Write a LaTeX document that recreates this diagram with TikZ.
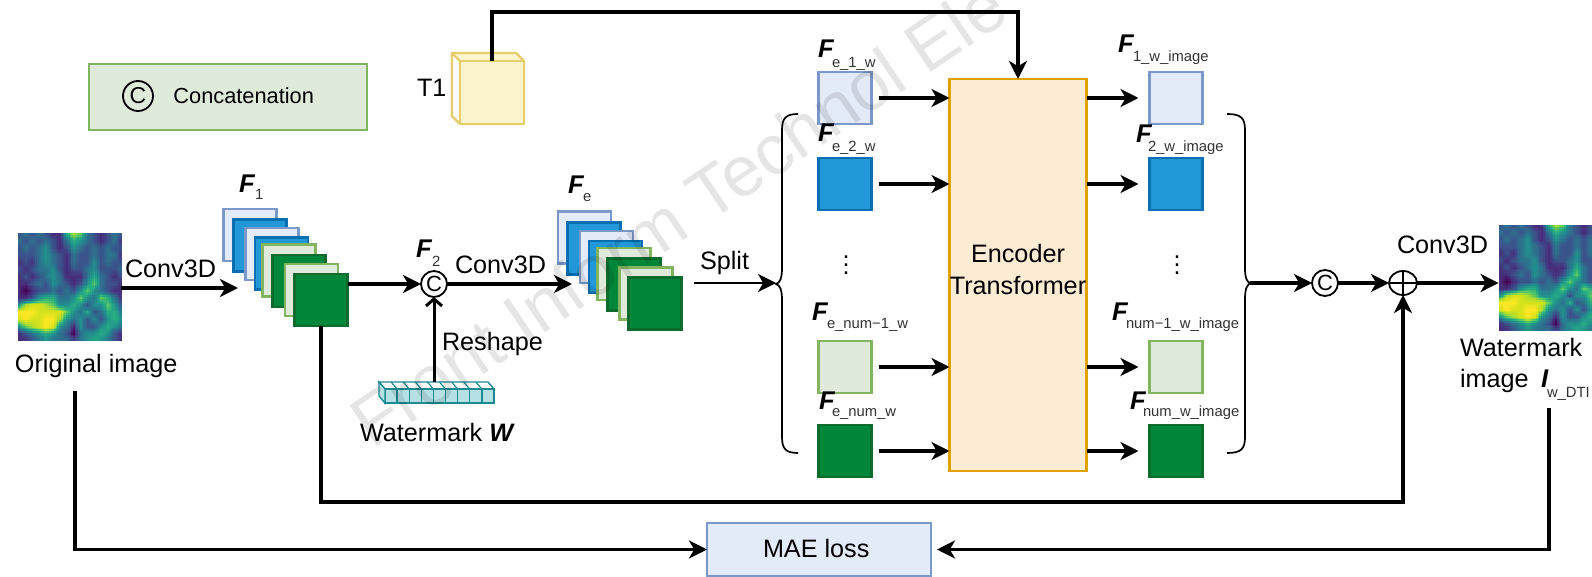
\documentclass[tikz,border=0pt]{standalone}
\usepackage{fontspec}
\setmainfont{Liberation Sans}
\usetikzlibrary{arrows.meta,shapes.geometric}
\definecolor{vir0}{HTML}{440154}\definecolor{vir1}{HTML}{472D7B}\definecolor{vir2}{HTML}{3B528B}
\definecolor{vir3}{HTML}{2C728E}\definecolor{vir4}{HTML}{21908D}\definecolor{vir5}{HTML}{27AD81}
\definecolor{vir6}{HTML}{5CC863}\definecolor{vir7}{HTML}{AADC32}\definecolor{vir8}{HTML}{D5E21A}
\definecolor{vir9}{HTML}{FDE725}\definecolor{vir10}{HTML}{FDE725}
\definecolor{lbF}{HTML}{E3EAF8}\definecolor{lbS}{HTML}{7A99C8}
\definecolor{bF}{HTML}{2298D8}\definecolor{bS}{HTML}{0A6FB0}
\definecolor{lgF}{HTML}{E0EADB}\definecolor{lgS}{HTML}{82B560}
\definecolor{gF}{HTML}{00873A}\definecolor{gS}{HTML}{0E6B2E}
\definecolor{encF}{HTML}{FDEBD3}\definecolor{encS}{HTML}{DFA300}
\definecolor{tF}{HTML}{FCF3CF}\definecolor{tS}{HTML}{E6CE6A}
\definecolor{wF}{HTML}{B5E1E4}\definecolor{wS}{HTML}{1C8A90}
\foreach \rw [count=\r from 0] in {
 {2,3,2,3,2,1,1,5,7,6,3,2,1,2,3,2},
 {3,2,3,2,3,2,1,3,5,4,3,2,1,2,3,1},
 {2,3,2,3,4,2,1,2,4,3,2,3,2,3,2,2},
 {2,2,2,3,4,3,2,1,3,2,2,3,2,3,3,1},
 {1,2,1,3,4,3,2,1,3,2,2,4,2,3,2,2},
 {2,1,2,3,3,4,2,1,2,2,3,4,2,2,2,3},
 {1,2,1,2,3,4,3,1,1,1,3,5,3,2,1,2},
 {1,1,2,3,2,4,3,2,1,2,4,6,3,2,2,1},
 {1,0,1,2,2,3,2,3,2,4,6,4,3,2,1,1},
 {1,1,2,4,5,5,3,3,4,6,4,3,6,5,3,1},
 {4,7,8,8,7,6,4,4,5,4,2,4,4,6,4,2},
 {9,9,9,8,8,8,8,6,4,3,5,2,3,5,5,3},
 {8,9,8,8,9,9,7,4,3,4,2,4,2,4,5,4},
 {4,6,7,8,9,8,4,3,1,4,2,2,4,5,4,3},
 {1,2,3,4,5,4,3,2,0,3,4,4,5,4,2,1},
 {1,1,2,3,4,3,3,3,2,3,4,5,4,3,2,1}}{
  \foreach \val [count=\c from 0] in \rw {
    \expandafter\xdef\csname hm-\r-\c\endcsname{\val}}}
\newcommand{\hmcell}[2]{\csname hm-\number#1-\number#2\endcsname}
% heat map drawn from the data above, interpolated between grid points
\newcommand{\hmap}[4]{%
 \pgfmathsetmacro\hdx{(#3-#1)/60}\pgfmathsetmacro\hdy{(#4-#2)/60}%
 \foreach \ii in {0,...,59}{%
  \edef\hr{\the\numexpr(\ii+2)/4-1\relax}\edef\hfy{\the\numexpr\ii-4*\hr\relax}%
  \edef\hrr{\the\numexpr\hr+1\relax}%
  \foreach \jj in {0,...,59}{%
   \edef\hc{\the\numexpr(\jj+2)/4-1\relax}\edef\hfx{\the\numexpr\jj-4*\hc\relax}%
   \edef\hcc{\the\numexpr\hc+1\relax}%
   \edef\hv{\the\numexpr(4-\hfy)*((4-\hfx)*\hmcell{\hr}{\hc}+\hfx*\hmcell{\hr}{\hcc})+\hfy*((4-\hfx)*\hmcell{\hrr}{\hc}+\hfx*\hmcell{\hrr}{\hcc})\relax}%
   \edef\hk{\the\numexpr(\hv+8)/16-1\relax}\edef\hkk{\the\numexpr\hk+1\relax}%
   \edef\hp{\the\numexpr100-(\hv-16*\hk)*100/16\relax}%
   \fill[vir\hk!\hp!vir\hkk] ({#1+\jj*\hdx},{#2+\ii*\hdy}) rectangle ++({\hdx+0.6},{\hdy+0.6});
  }}}
\newcommand{\bigsz}{\fontsize{12.6}{16}\selectfont}
\newcommand{\subsz}{\fontsize{7.4}{9}\selectfont}
\tikzset{
  x=0.5pt,y=-0.5pt,
  txt/.style={anchor=base west,inner sep=0pt,outer sep=0pt,font=\bigsz,text=black},
  fsym/.style={anchor=base west,inner sep=0pt,outer sep=0pt,font=\fontsize{12.8}{14}\selectfont\bfseries\itshape},
  fsub/.style={anchor=base west,inner sep=0pt,outer sep=0pt,font=\subsz,text=black!80},
  sq/.style={rectangle,minimum width=26.5pt,minimum height=26pt,inner sep=0pt,outer sep=0pt,line width=1.3pt},
  sqlb/.style={sq,fill=lbF,draw=lbS},
  sqb/.style={sq,fill=bF,draw=bS},
  sqlg/.style={sq,fill=lgF,draw=lgS},
  sqg/.style={sq,fill=gF,draw=gS},
  flow/.style={line width=1.6pt,-{Stealth[length=9pt,width=9pt,inset=2.6pt]}},
  thinflow/.style={line width=1pt,-{Stealth[length=9pt,width=9pt,inset=2.6pt]}},
  brace/.style={line width=0.85pt},
  cat/.style={circle,draw=black,fill=white,line width=0.9pt,inner sep=0pt,outer sep=0pt,minimum size=13pt,font=\fontsize{11}{11}\selectfont},
  wcell/.style={fill=wF,draw=wS,line width=0.7pt},
  wtop/.style={fill=white,draw=wS,line width=0.7pt},
}
\begin{document}
\begin{tikzpicture}
\useasboundingbox (0,0) rectangle (1592,577);
\fill[white] (0,0) rectangle (1592,577);
% legend
\node[rectangle,draw=lgS,fill=lgF,line width=1.4pt,minimum width=139pt,minimum height=33pt,inner sep=0pt] (legend) at (228,97) {};
\node[cat,minimum size=15pt,fill=none,font=\fontsize{11.5}{12}\selectfont] (legc) at (138,96) {C};
\node[anchor=base west,inner sep=0pt,font=\fontsize{10.9}{12}\selectfont] (legt) at (173,104) {Concatenation};
% images
\hmap{18}{233}{121}{340}
\node[inner sep=0pt,minimum width=51.5pt,minimum height=53.5pt] (orig) at (69.5,286.5) {};
\begin{scope}
\clip (1400,200) rectangle (1592,577);
\hmap{1499}{225}{1604}{330}
\end{scope}
\node[inner sep=0pt,minimum width=52.5pt,minimum height=52.5pt] (wimg) at (1551.5,277.5) {};
% F1 stack
\node[sqlb] (a1) at (250,235) {};
\node[sqb]  (a2) at (260,245.5) {};
\node[sqlb] (a3) at (272,254) {};
\node[sqb]  (a4) at (281.5,263.5) {};
\node[sqlg] (a5) at (289,270.5) {};
\node[sqg]  (a6) at (299,281) {};
\node[sqlg] (a7) at (311.5,290) {};
\node[sqg]  (a8) at (321,300) {};
% Fe stack
\node[sqlb] (b1) at (584.5,237.5) {};
\node[sqb]  (b2) at (594,248.5) {};
\node[sqlb] (b3) at (606.5,257) {};
\node[sqb]  (b4) at (615.5,267) {};
\node[sqlg] (b5) at (624,274) {};
\node[sqg]  (b6) at (634,284.5) {};
\node[sqlg] (b7) at (646,293.5) {};
\node[sqg]  (b8) at (655,303.5) {};
% split squares
\node[sqlb] (e1) at (845,98) {};
\node[sqb]  (e2) at (845,184) {};
\node[sqlg] (e3) at (845,367) {};
\node[sqg]  (e4) at (845,451) {};
\node[sqlb] (o1) at (1176,98) {};
\node[sqb]  (o2) at (1176,184) {};
\node[sqlg] (o3) at (1176,367) {};
\node[sqg]  (o4) at (1176,451) {};
\node[rectangle,fill=encF,draw=encS,line width=1.4pt,minimum width=68.5pt,minimum height=196pt,inner sep=0pt,outer sep=0pt] (enc) at (1018,275) {};
\node[inner sep=0pt,align=center,font=\bigsz] (enct) at (1018,269) {Encoder\\Transformer};
% MAE
\node[rectangle,fill=lbF,draw=lbS,line width=1.3pt,minimum width=112pt,minimum height=26.5pt,inner sep=0pt,outer sep=0pt] (mae) at (819,549.5) {};
\node[txt] (maet) at (763,557) {MAE loss};
% T1 cuboid
\fill[tF,draw=tS,line width=1.1pt,line join=round] (452,53) -- (516,53) -- (524,61) -- (524,124) -- (460,124) -- (452,116) -- cycle;
\fill[white,draw=tS,line width=1.1pt,line join=round] (452,53) -- (460,61) -- (460,124) -- (452,116) -- cycle;
\node[rectangle,fill=tF,draw=tS,line width=1.1pt,minimum width=32pt,minimum height=31.5pt,inner sep=0pt,outer sep=0pt] (t1) at (492,92.5) {};
\node[txt] (t1t) at (417,97) {T1};
% watermark bar
\fill[wtop] (379,382) -- (488,382) -- (494,389) -- (385,389) -- cycle;
\foreach \k in {0,...,8}{
  \draw[wS,line width=0.6pt] ({379+\k*12.1},382) -- ({385+\k*12.1},389);
  \fill[wcell] ({385+\k*12.1},389) rectangle ++(12.1,14);
}
\fill[wcell] (379,382) -- (385,389) -- (385,403) -- (379,396) -- cycle;
\node[inner sep=0pt,minimum width=57.5pt,minimum height=10.5pt] (wm) at (436.5,392.5) {};
% operators
\node[cat] (c1) at (434,284) {C};
\node[cat] (c2) at (1325,283) {C};
\node[ellipse,draw=black,fill=white,line width=0.9pt,inner sep=0pt,outer sep=0pt,minimum width=14pt,minimum height=12pt] (plus) at (1403,283) {};
\draw[line width=0.9pt] (plus.west) -- (plus.east) (plus.north) -- (plus.south);
% helper points
\coordinate (f1in) at (238,288);
\coordinate (fein) at (572,284);
\coordinate (tl) at (492,12);
\coordinate (splits) at (694,283);
\coordinate (bl) at (776,283);
\coordinate (br) at (1250,283);
\coordinate (dropout) at (321,502);
\coordinate (lossl) at (75,391);
\coordinate (lossr) at (1549,408);
% connectors
\draw[flow] (orig.east |- f1in) -- (f1in);
\draw[flow] (a8.east |- c1) -- (c1.west);
\draw[flow] (c1.east) -- (fein);
\draw[line width=1.5pt,-{Straight Barb[length=3.5pt,width=8pt]}] (c1.south |- wm.north) -- (c1.south);
\draw[flow] (t1.north) -- (tl) -- (tl -| enc.north) -- (enc.north);
\draw[thinflow] (splits) -- (bl);
\foreach \n in {1,2,3,4}{
  \draw[flow,shorten <=3.5pt] (e\n.east) -- (enc.west |- e\n);
  \draw[flow,shorten >=5.5pt] (enc.east |- o\n) -- (o\n.west);
}
\draw[flow] (br) -- (c2.west);
\draw[flow] (c2.east) -- (plus.west);
\draw[flow] (plus.east) -- (wimg.west |- plus);
\draw[flow] (a8.south) -- (dropout) -- (dropout -| plus.south) -- (plus.south);
\draw[flow] (lossl) -- (lossl |- mae.west) -- (mae.west);
\draw[flow] (lossr) -- (lossr |- mae.east) -- ([xshift=3pt]mae.east);
% braces
\draw[brace] (798,114) .. controls (786,114) and (782,118) .. (782,130) -- (782,268) .. controls (782,278) and (780,283) .. (776,284) .. controls (780,285) and (782,290) .. (782,300) -- (782,437) .. controls (782,449) and (786,453) .. (798,453);
\draw[brace] (1227,114) .. controls (1241,114) and (1245,118) .. (1245,130) -- (1245,268) .. controls (1245,278) and (1247,283) .. (1251,283) .. controls (1247,284) and (1245,289) .. (1245,299) -- (1245,437) .. controls (1245,449) and (1241,453) .. (1227,453);
% labels
\node[txt] (l1) at (125,278) {Conv3D};
\node[txt] (l2) at (15,373) {Original image};
\node[txt] (l3) at (455,274) {Conv3D};
\node[txt] (l4) at (442,351) {Reshape};
\node[txt] (l5) at (360,442) {Watermark \textbf{\textit{W}}};
\node[txt] (l6) at (700,270) {Split};
\node[txt] (l7) at (1397,254) {Conv3D};
\node[txt] (l8) at (1460,357) {Watermark};
\node[txt] (l9) at (1460,388) {image};
\node[fsym] (l10) at (1541,388) {I};
\node[fsub] (l11) at (1547,398) {w\_DTI};
\node[fsym] (f1a) at (239,193) {F};   \node[fsub] (f1b) at (255,200) {1};
\node[fsym] (f2a) at (416,258) {F};   \node[fsub] (f2b) at (432,267) {2};
\node[fsym] (fea) at (568,194) {F};   \node[fsub] (feb) at (583,202) {e};
\node[fsym] (g1a) at (818,58) {F};    \node[fsub] (g1b) at (832,68) {e\_1\_w};
\node[fsym] (g2a) at (818,142) {F};   \node[fsub] (g2b) at (832,152) {e\_2\_w};
\node[fsym] (g3a) at (812,321) {F};   \node[fsub] (g3b) at (827,329) {e\_num−1\_w};
\node[fsym] (g4a) at (819,409) {F};   \node[fsub] (g4b) at (832,417) {e\_num\_w};
\node[fsym] (h1a) at (1118,53) {F};   \node[fsub] (h1b) at (1133,62) {1\_w\_image};
\node[fsym] (h2a) at (1136,143) {F};  \node[fsub] (h2b) at (1148,152) {2\_w\_image};
\node[fsym] (h3a) at (1112,321) {F};  \node[fsub] (h3b) at (1126,329) {num−1\_w\_image};
\node[fsym] (h4a) at (1130,409) {F};  \node[fsub] (h4b) at (1143,417) {num\_w\_image};
\node[inner sep=0pt,font=\bigsz] (d1) at (846,259) {$\vdots$};
\node[inner sep=0pt,font=\bigsz] (d2) at (1177,259) {$\vdots$};
% journal watermark, laid over everything
\begin{scope}
\clip (0,0) rectangle (1592,577);
\node[anchor=base west,inner sep=0pt,rotate=34,text=black,text opacity=0.1,font=\fontsize{35.4}{40}\selectfont] (stamp) at (372,450) {Front Inform Technol Ele};
\end{scope}
\end{tikzpicture}
\end{document}
